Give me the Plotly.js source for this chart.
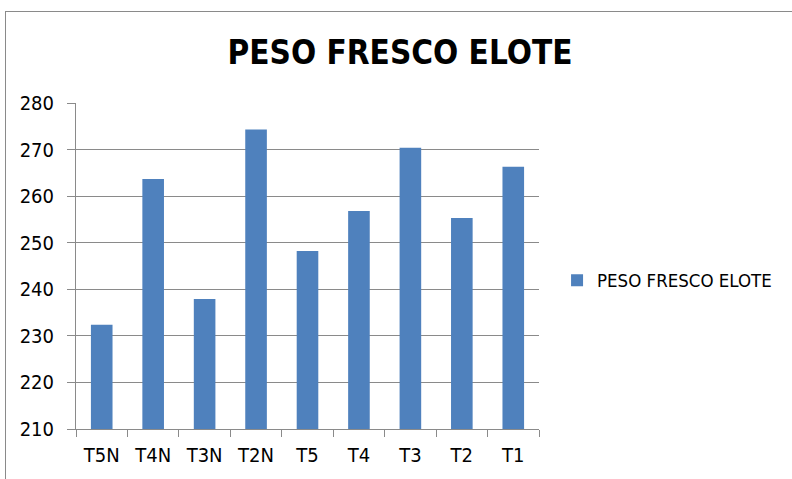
<!DOCTYPE html>
<html><head><meta charset="utf-8">
<script src="https://cdn.plot.ly/plotly-3.0.1.min.js"></script>
<style>
html,body{margin:0;padding:0;background:#fff;overflow:hidden;}
#chart{position:absolute;left:0;top:0;width:792px;height:479px;}
#frame{position:absolute;left:5px;top:11px;width:900px;height:470px;border:1px solid #8a8a8a;pointer-events:none;}
</style></head>
<body>
<div id="chart"></div>
<div id="frame"></div>
<script>
const categories = ["T5N","T4N","T3N","T2N","T5","T4","T3","T2","T1"];
const pesoFresco = [232.4, 263.7, 237.9, 274.3, 248.2, 256.8, 270.4, 255.3, 266.3];
const yTicks = [210,220,230,240,250,260,270,280];
const seriesName = "PESO FRESCO ELOTE";
const titleText = "PESO FRESCO ELOTE";

const font = "DejaVu Sans Condensed, Liberation Sans Narrow, Arial, sans-serif";
const data = [{
  type: "bar",
  x: categories,
  y: pesoFresco,
  name: seriesName,
  marker: {color: "#4f81bd", line: {color: "#4f81bd", width: 0}},
  showlegend: true
}];
const layout = {
  width: 792, height: 479,
  paper_bgcolor: "#fff", plot_bgcolor: "#fff",
  margin: {l: 76, r: 253, t: 103, b: 50},
  title: {text: "<b>" + titleText + "</b>", x: 0.505, xanchor: "center", y: 0.89, yanchor: "middle",
          font: {family: font, size: 33, color: "#000"}},
  bargap: 0.58,
  xaxis: {
    type: "category", tickson: "boundaries", ticks: "outside", ticklen: 7, tickcolor: "#8a8a8a",
    showline: true, linecolor: "#8a8a8a", linewidth: 1, showgrid: false,
    ticklabelstandoff: 8,
    tickfont: {family: font, size: 20, color: "#000"}
  },
  yaxis: {
    range: [210, 280], tickvals: yTicks, ticks: "outside", ticklen: 8, tickcolor: "#8a8a8a",
    showline: true, linecolor: "#8a8a8a", linewidth: 1,
    showgrid: true, gridcolor: "#8a8a8a", gridwidth: 1, zeroline: false,
    ticklabelstandoff: 9,
    tickfont: {family: font, size: 20, color: "#000"}
  },
  legend: {x: 1.039, xanchor: "left", y: 0.455, yanchor: "middle",
           font: {family: font, size: 18.5, color: "#000"}, itemwidth: 30, bgcolor: "rgba(0,0,0,0)"}
};
Plotly.newPlot("chart", data, layout, {displayModeBar: false, staticPlot: true});
</script>
</body></html>
